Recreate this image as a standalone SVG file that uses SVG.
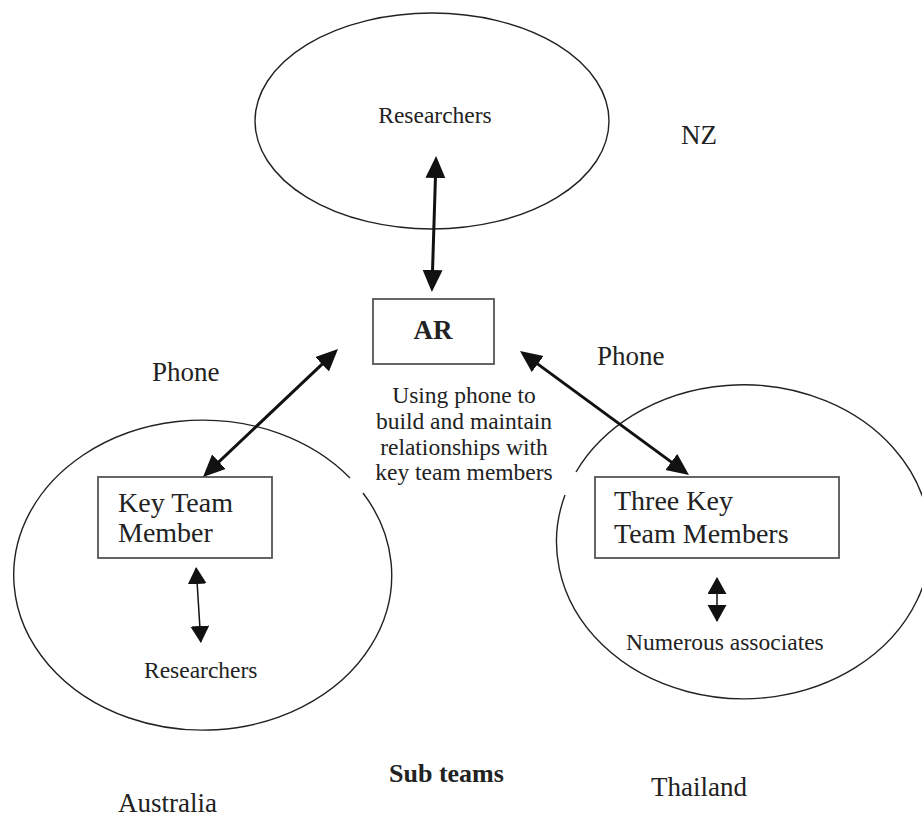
<svg xmlns="http://www.w3.org/2000/svg" width="922" height="817" viewBox="0 0 922 817">
<style>
text{font-family:"Liberation Serif","Times New Roman",serif;fill:#222}
.ell{fill:none;stroke:#222;stroke-width:1.4}
.box{fill:#fff;stroke:#555;stroke-width:1.8}
.big{stroke:#111;stroke-width:3;fill:none;marker-start:url(#hb);marker-end:url(#hb)}
.small{stroke:#111;stroke-width:1.5;fill:none;marker-start:url(#hs);marker-end:url(#hs)}
</style>
<defs>
<marker id="hb" markerUnits="userSpaceOnUse" markerWidth="24" markerHeight="22" refX="18" refY="10" orient="auto-start-reverse" viewBox="0 0 24 22"><path d="M0,0 L22,10 L0,20 z" fill="#111"/></marker>
<marker id="hs" markerUnits="userSpaceOnUse" markerWidth="20" markerHeight="20" refX="16" refY="9.5" orient="auto-start-reverse" viewBox="0 0 20 20"><path d="M0,0 L17,9.5 L0,19 z" fill="#111"/></marker>
</defs>
<rect width="922" height="817" fill="#fff"/>
<g id="nz">
<ellipse class="ell" cx="432" cy="121" rx="177" ry="108"/>
<text x="435" y="123" font-size="23.5" text-anchor="middle">Researchers</text>
<text x="681" y="144" font-size="27">NZ</text>
</g>
<g id="australia">
<path class="ell" d="M363,493 A189,155 0 1 1 350,478"/>
<text x="118" y="812" font-size="27">Australia</text>
</g>
<g id="thailand">
<path class="ell" d="M576,472 A187,157 0 1 1 565,495"/>
<text x="651" y="796" font-size="27">Thailand</text>
</g>
<g id="ar">
<rect class="box" x="373" y="299" width="121" height="65"/>
<text x="433" y="339" font-size="27" font-weight="bold" text-anchor="middle">AR</text>
</g>
<g id="note">
<text font-size="23.5" text-anchor="middle"><tspan x="464" y="403">Using phone to</tspan><tspan x="464" y="429">build and maintain</tspan><tspan x="464" y="455">relationships with</tspan><tspan x="464" y="480">key team members</tspan></text>
</g>
<g id="key-team-member">
<rect class="box" x="98" y="477" width="174" height="81"/>
<text font-size="28"><tspan x="118" y="512">Key Team</tspan><tspan x="118" y="542">Member</tspan></text>
</g>
<g id="three-key">
<rect class="box" x="595" y="477" width="244" height="81"/>
<text font-size="28"><tspan x="614" y="510">Three Key</tspan><tspan x="614" y="543">Team Members</tspan></text>
</g>
<g id="aus-researchers">
<text x="144" y="678" font-size="23.5">Researchers</text>
</g>
<g id="associates">
<text x="626" y="650" font-size="23.5">Numerous associates</text>
</g>
<g id="labels">
<text x="152" y="381" font-size="27">Phone</text>
<text x="597" y="365" font-size="27">Phone</text>
<text x="389" y="782" font-size="26" font-weight="bold">Sub teams</text>
</g>
<g id="connectors">
<line class="big" x1="436" y1="160" x2="432" y2="288"/>
<line class="big" x1="335.1" y1="351.8" x2="205.9" y2="474.2"/>
<line class="big" x1="523.2" y1="353.4" x2="685.8" y2="472.6"/>
<line class="small" x1="196.2" y1="568" x2="200.8" y2="642"/>
<line class="small" x1="717" y1="578" x2="717" y2="621"/>
</g>
</svg>
